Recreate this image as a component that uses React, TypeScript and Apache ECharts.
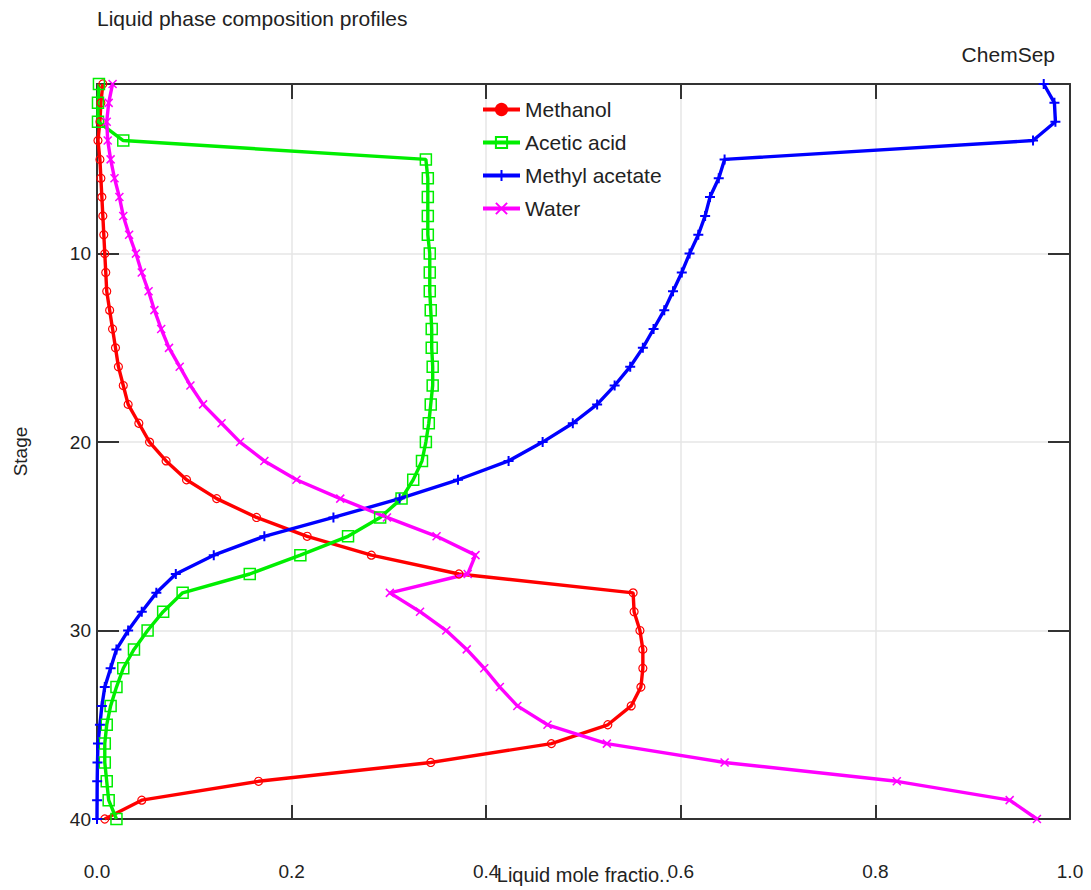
import React, { useEffect, useRef } from "react";
import * as echarts from "echarts";

// Column stages, top (1) to bottom (40)
const stages = [
  1, 2, 3, 4, 5, 6, 7, 8, 9, 10, 11, 12, 13, 14, 15, 16, 17, 18, 19, 20,
  21, 22, 23, 24, 25, 26, 27, 28, 29, 30, 31, 32, 33, 34, 35, 36, 37, 38, 39, 40,
];

// Liquid mole fractions per stage
const methanol = [
  0.006, 0.004, 0.003, 0.001, 0.003, 0.004, 0.005, 0.006, 0.007, 0.008,
  0.009, 0.010, 0.013, 0.016, 0.019, 0.022, 0.027, 0.032, 0.043, 0.054,
  0.071, 0.092, 0.123, 0.164, 0.216, 0.282, 0.372, 0.551, 0.552, 0.558,
  0.561, 0.561, 0.559, 0.549, 0.525, 0.467, 0.343, 0.166, 0.046, 0.008,
];
const aceticAcid = [
  0.002, 0.001, 0.001, 0.027, 0.338, 0.340, 0.340, 0.340, 0.340, 0.342,
  0.342, 0.342, 0.343, 0.344, 0.344, 0.345, 0.345, 0.343, 0.341, 0.338,
  0.334, 0.325, 0.313, 0.291, 0.258, 0.209, 0.157, 0.088, 0.068, 0.052,
  0.038, 0.027, 0.020, 0.014, 0.010, 0.008, 0.008, 0.010, 0.012, 0.020,
];
const methylAcetate = [
  0.973, 0.984, 0.985, 0.962, 0.645, 0.639, 0.630, 0.625, 0.618, 0.609,
  0.601, 0.592, 0.583, 0.572, 0.561, 0.548, 0.532, 0.514, 0.489, 0.458,
  0.423, 0.371, 0.311, 0.243, 0.172, 0.120, 0.081, 0.061, 0.046, 0.032,
  0.020, 0.014, 0.008, 0.005, 0.003, 0.001, 0.0005, 0.0002, 0.0001, 0.0,
];
const water = [
  0.016, 0.012, 0.010, 0.011, 0.014, 0.018, 0.023, 0.027, 0.033, 0.040,
  0.046, 0.053, 0.059, 0.066, 0.074, 0.085, 0.096, 0.109, 0.128, 0.147,
  0.172, 0.205, 0.250, 0.298, 0.349, 0.389, 0.381, 0.301, 0.332, 0.359,
  0.380, 0.398, 0.414, 0.432, 0.463, 0.524, 0.645, 0.822, 0.938, 0.966,
];

const stageTicks = [10, 20, 30, 40];
const xTickLabels = ["0.0", "0.2", "0.4", "0.6", "0.8", "1.0"];

const FONT = "'Liberation Sans', Arial, sans-serif";
const TEXT = "#222";
const AXIS = "#333";
const GRID = "#e6e6e6";

const PLUS = "path://M0,5L10,5M5,0L5,10";
const CROSS = "path://M0,0L10,10M10,0L0,10";

function pairs(values: number[]) {
  return values.map((v, i) => [v, stages[i]]);
}

export default function App() {
  const ref = useRef<HTMLDivElement>(null);

  useEffect(() => {
    if (!ref.current) return;
    const chart = echarts.init(ref.current, null, { renderer: "svg" });

    const lineSeries = (
      name: string,
      values: number[],
      color: string,
      symbol: string,
      symbolSize: number,
      borderWidth: number
    ) => ({
      name,
      type: "line",
      data: pairs(values),
      clip: false,
      symbol,
      symbolSize,
      lineStyle: { color, width: 3.4 },
      itemStyle: { color: "rgba(0,0,0,0)", borderColor: color, borderWidth },
      emphasis: { disabled: true },
      z: 3,
    });

    chart.setOption({
      animation: false,
      backgroundColor: "#fff",
      textStyle: { fontFamily: FONT },
      title: [
        {
          text: "Liquid phase composition profiles",
          left: 97,
          top: 8,
          padding: 0,
          textStyle: { fontSize: 21, fontWeight: "normal", color: TEXT, fontFamily: FONT },
        },
        {
          text: "ChemSep",
          right: 36,
          top: 44,
          padding: 0,
          textStyle: { fontSize: 21, fontWeight: "normal", color: TEXT, fontFamily: FONT },
        },
      ],
      grid: { left: 97, right: 21, top: 84, bottom: 71, containLabel: false },
      legend: {
        orient: "vertical",
        left: 481,
        top: 99,
        padding: 0,
        itemWidth: 37,
        itemHeight: 14,
        itemGap: 12,
        lineStyle: { width: 4 },
        textStyle: { fontSize: 21, color: TEXT, fontFamily: FONT },
        data: [
          { name: "Methanol", itemStyle: { color: "#ff0000" } },
          { name: "Acetic acid" },
          { name: "Methyl acetate" },
          { name: "Water" },
        ],
      },
      xAxis: [
        {
          type: "value",
          position: "bottom",
          min: 0,
          max: 1,
          interval: 0.2,
          name: "Liquid mole fractio..",
          nameLocation: "middle",
          nameGap: 46,
          nameMoveOverlap: false,
          nameTextStyle: { fontSize: 20, color: TEXT, fontFamily: FONT },
          axisLine: { show: true, onZero: false, lineStyle: { color: AXIS, width: 2 } },
          axisTick: { show: true, inside: true, length: 14, lineStyle: { color: AXIS, width: 2 } },
          axisLabel: {
            margin: 43,
            fontSize: 19,
            color: TEXT,
            fontFamily: FONT,
            formatter: (v: number) => xTickLabels[Math.round(v / 0.2)] ?? "",
          },
          splitLine: { show: true, lineStyle: { color: GRID, width: 1.5 } },
        },
        {
          type: "value",
          position: "top",
          min: 0,
          max: 1,
          interval: 0.2,
          axisLine: { show: true, onZero: false, lineStyle: { color: AXIS, width: 2 } },
          axisTick: { show: true, inside: true, length: 15, lineStyle: { color: AXIS, width: 2 } },
          axisLabel: { show: false },
          splitLine: { show: false },
        },
      ],
      yAxis: [
        {
          type: "value",
          position: "left",
          inverse: true,
          min: 1,
          max: 40,
          name: "Stage",
          nameLocation: "middle",
          nameGap: 67,
          nameRotate: 90,
          nameMoveOverlap: false,
          nameTextStyle: { fontSize: 19, color: TEXT, fontFamily: FONT },
          axisLine: { show: true, onZero: false, lineStyle: { color: AXIS, width: 2 } },
          axisTick: {
            show: true,
            inside: true,
            length: 22,
            customValues: stageTicks,
            lineStyle: { color: AXIS, width: 2 },
          },
          axisLabel: {
            margin: 6,
            fontSize: 19,
            color: TEXT,
            fontFamily: FONT,
            customValues: stageTicks,
          },
          splitLine: { show: true, lineStyle: { color: GRID, width: 1.5 } },
        },
        {
          type: "value",
          position: "right",
          inverse: true,
          min: 1,
          max: 40,
          axisLine: { show: true, onZero: false, lineStyle: { color: AXIS, width: 2 } },
          axisTick: {
            show: true,
            inside: true,
            length: 22,
            customValues: stageTicks,
            lineStyle: { color: AXIS, width: 2 },
          },
          axisLabel: { show: false, customValues: stageTicks },
          splitLine: { show: false },
        },
      ],
      series: [
        lineSeries("Methanol", methanol, "#ff0000", "circle", 8, 1.2),
        lineSeries("Acetic acid", aceticAcid, "#00ee00", "rect", 11, 1.5),
        lineSeries("Methyl acetate", methylAcetate, "#0000ff", PLUS, 10, 2),
        lineSeries("Water", water, "#ff00ff", CROSS, 8, 1.5),
      ],
    });

    return () => chart.dispose();
  }, []);

  return (
    <div
      ref={ref}
      style={{ position: "fixed", left: 0, top: 0, width: 1091, height: 890, background: "#fff" }}
    />
  );
}
